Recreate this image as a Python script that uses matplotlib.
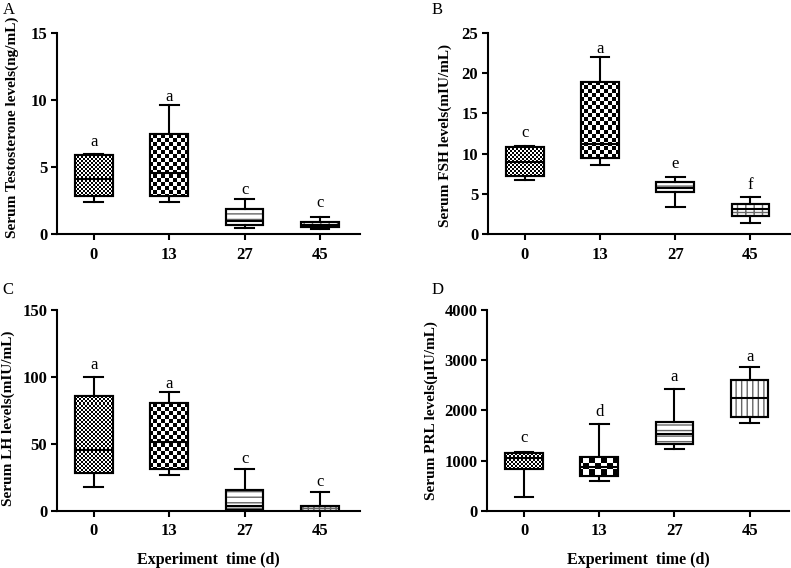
import numpy as np
import matplotlib
matplotlib.use('Agg')
import matplotlib.pyplot as plt
from matplotlib.patches import PathPatch

plt.rcParams['font.family'] = 'Liberation Serif'
plt.rcParams['hatch.linewidth'] = 1.0

groups = ['0', '13', '27', '45']

# box stats: whisker low, q1, median, q3, whisker high
testo_lo = [2.4, 2.4, 0.45, 0.35]
testo_q1 = [2.8, 2.8, 0.65, 0.5]
testo_med = [4.1, 4.55, 1.0, 0.7]
testo_q3 = [5.9, 7.45, 1.85, 0.9]
testo_hi = [6.0, 9.65, 2.6, 1.3]
testo_letters = ['a', 'a', 'c', 'c']
testo_letter_y = [6.9, 10.25, 3.3, 2.3]

fsh_lo = [6.75, 8.55, 3.4, 1.4]
fsh_q1 = [7.25, 9.4, 5.2, 2.3]
fsh_med = [8.9, 11.2, 5.7, 3.05]
fsh_q3 = [10.8, 18.95, 6.45, 3.75]
fsh_hi = [10.9, 22.05, 7.15, 4.55]
fsh_letters = ['c', 'a', 'e', 'f']
fsh_letter_y = [12.5, 23.0, 8.7, 6.1]

lh_lo = [18, 26.5, 0.5, 0]
lh_q1 = [28, 31, 1, 0]
lh_med = [45.5, 51.5, 3.5, 0]
lh_q3 = [86, 80.5, 16, 4]
lh_hi = [100, 88.5, 31, 14.5]
lh_letters = ['a', 'a', 'c', 'c']
lh_letter_y = [109, 94.5, 38.8, 21.4]

prl_lo = [270, 595, 1235, 1745]
prl_q1 = [840, 705, 1340, 1870]
prl_med = [1050, 880, 1530, 2240]
prl_q3 = [1150, 1075, 1775, 2605]
prl_hi = [1170, 1735, 2420, 2860]
prl_letters = ['c', 'd', 'a', 'a']
prl_letter_y = [1447, 1964, 2661, 3071]


def checker_fill(ax, patch, size):
    # black/white checkerboard texture, clipped to the box
    bb = ax.get_window_extent()
    nx = int(np.ceil(bb.width / size))
    ny = int(np.ceil(bb.height / size))
    ii, jj = np.indices((ny, nx))
    tex = (ii + jj) % 2
    img = ax.imshow(tex, cmap='gray', vmin=0, vmax=1, interpolation='nearest',
                    extent=[0, nx * size / bb.width, 0, ny * size / bb.height],
                    transform=ax.transAxes, aspect='auto', zorder=2.2)
    img.set_clip_path(patch)


def draw_panel(ax, lo, q1, med, q3, hi, letters, letter_y, ymax, ystep, ylabel,
               label_xy, fills, xlabel=None):
    stats = [dict(whislo=a, q1=b, med=c, q3=d, whishi=e)
             for a, b, c, d, e in zip(lo, q1, med, q3, hi)]
    art = ax.bxp(stats, positions=range(len(groups)), widths=0.5, capwidths=0.25,
                 patch_artist=True, showfliers=False,
                 boxprops=dict(facecolor='white', edgecolor='black', linewidth=1.5),
                 medianprops=dict(color='black', linewidth=1.5, zorder=3),
                 whiskerprops=dict(color='black', linewidth=1.5),
                 capprops=dict(color='black', linewidth=1.5))
    for box, fill in zip(art['boxes'], fills):
        if isinstance(fill, (int, float)):
            checker_fill(ax, box, fill)
        else:
            ax.add_patch(PathPatch(box.get_path(), facecolor='none', edgecolor='#666666',
                                   linewidth=0, hatch=fill, zorder=2.2))
        ax.add_patch(PathPatch(box.get_path(), fill=False, edgecolor='black',
                               linewidth=1.5, zorder=2.5))
    for i, (t, y) in enumerate(zip(letters, letter_y)):
        ax.text(i, y, t, ha='center', va='center', fontsize=12)

    ax.set_xlim(-0.49, 3.53)
    ax.set_ylim(0, ymax)
    ax.set_yticks(np.arange(0, ymax + ystep / 2, ystep))
    ax.set_xticks(range(len(groups)))
    ax.set_xticklabels(groups)
    for s in ['top', 'right']:
        ax.spines[s].set_visible(False)
    for s in ['left', 'bottom']:
        ax.spines[s].set_linewidth(1.5)
    ax.tick_params(width=1.5, length=4, labelsize=12, pad=3)
    ax.tick_params(axis='x', pad=5)
    for lab in ax.get_xticklabels() + ax.get_yticklabels():
        lab.set_fontweight('bold')
    ax.set_ylabel(ylabel, fontsize=11, fontweight='bold')
    ax.yaxis.set_label_coords(*label_xy)
    if xlabel:
        ax.set_xlabel(xlabel, fontsize=11.5, fontweight='bold', labelpad=9)


fig = plt.figure(figsize=(7.91, 5.68), dpi=100)
axA = fig.add_axes([0.072, 0.588, 0.383, 0.354])
axB = fig.add_axes([0.617, 0.588, 0.382, 0.354])
axC = fig.add_axes([0.072, 0.1004, 0.383, 0.354])
axD = fig.add_axes([0.616, 0.1004, 0.382, 0.354])

draw_panel(axA, testo_lo, testo_q1, testo_med, testo_q3, testo_hi, testo_letters,
           testo_letter_y, 15, 5, 'Serum Testosterone levels(ng/mL)', (-0.125, 0.53),
           [2, 4, '---', '++'])
draw_panel(axB, fsh_lo, fsh_q1, fsh_med, fsh_q3, fsh_hi, fsh_letters,
           fsh_letter_y, 25, 5, 'Serum FSH levels(mIU/mL)', (-0.119, 0.49),
           [2, 4, '---', '++'])
draw_panel(axC, lh_lo, lh_q1, lh_med, lh_q3, lh_hi, lh_letters,
           lh_letter_y, 150, 50, 'Serum LH levels(mIU/mL)', (-0.14, 0.46),
           [2, 4, '---', '+++'], xlabel='Experiment  time (d)')
draw_panel(axD, prl_lo, prl_q1, prl_med, prl_q3, prl_hi, prl_letters,
           prl_letter_y, 4000, 1000, 'Serum PRL levels(\u03bcIU/mL)', (-0.163, 0.5),
           [2, 6, '---', '|||'], xlabel='Experiment  time (d)')

for x, y, t in [(0.003, 0.997, 'A'), (0.546, 0.997, 'B'),
                (0.003, 0.503, 'C'), (0.546, 0.503, 'D')]:
    fig.text(x, y, t, ha='left', va='top', fontsize=12)

fig.savefig('out.png', dpi=100)
